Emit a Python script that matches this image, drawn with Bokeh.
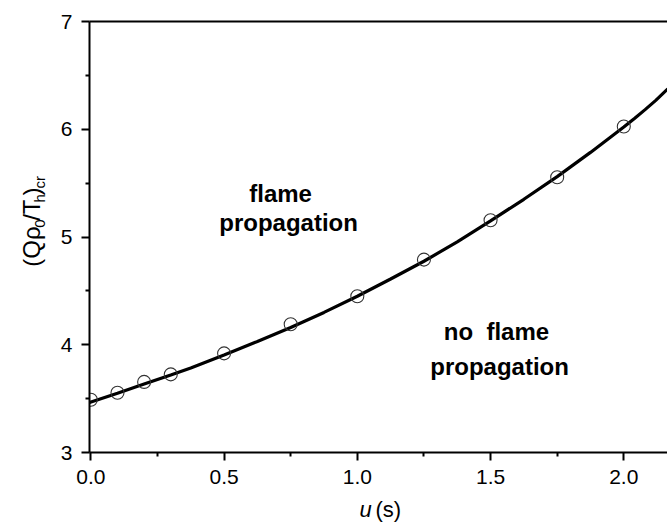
import math
from bokeh.plotting import figure
from bokeh.layouts import column, row
from bokeh.models import (Range1d, LinearAxis, FixedTicker, NumeralTickFormatter, Label)
from bokeh.core.properties import value
from bokeh.embed import file_html
from bokeh.resources import INLINE

# ---- data ----
curve_u = [-0.005, 0.1, 0.2, 0.3, 0.375, 0.5, 0.625, 0.75, 0.875, 1.0, 1.125,
           1.25, 1.375, 1.5, 1.625, 1.75, 1.875, 2.0, 2.04, 2.08, 2.12, 2.165]
curve_q = [3.465, 3.55, 3.635, 3.72, 3.785, 3.905, 4.03, 4.16, 4.30, 4.45, 4.61,
           4.775, 4.955, 5.15, 5.35, 5.56, 5.785, 6.02, 6.10, 6.182, 6.268, 6.375]
pts_u = [0.0, 0.1, 0.2, 0.3, 0.5, 0.75, 1.0, 1.25, 1.5, 1.75, 2.0]
pts_q = [3.49, 3.555, 3.655, 3.725, 3.92, 4.19, 4.45, 4.79, 5.155, 5.555, 6.025]
x_ticks = [0.0, 0.5, 1.0, 1.5, 2.0]
x_minor = [0.25, 0.75, 1.25, 1.75]
y_ticks = [3, 4, 5, 6, 7]
y_minor = [3.5, 4.5, 5.5, 6.5]

FONT = "Liberation Sans"
W, H = 667, 522
YW = 50      # width of y-title strip
XH = 28      # height of x-title strip
MH = H - XH  # main plot height

p = figure(width=W - YW, height=MH, output_backend="svg", toolbar_location=None,
           x_range=Range1d(-0.005, 2.164), y_range=Range1d(3, 7),
           min_border_left=89 - YW, min_border_right=0, min_border_top=21,
           min_border_bottom=MH - 452, background_fill_color="white",
           border_fill_color="white")
p.outline_line_color = None
p.grid.visible = False

for ax, maj, mnr, fmt, so in ((p.xaxis[0], x_ticks, x_minor, "0.0", 9),
                              (p.yaxis[0], y_ticks, y_minor, "0", 9)):
    ax.ticker = FixedTicker(ticks=maj, minor_ticks=mnr)
    ax.formatter = NumeralTickFormatter(format=fmt)
    ax.axis_line_width = 2
    ax.axis_line_color = "black"
    ax.major_tick_line_width = 2
    ax.minor_tick_line_width = 2
    ax.major_tick_in = 0
    ax.major_tick_out = 8
    ax.minor_tick_in = 0
    ax.minor_tick_out = 4
    ax.major_label_text_font = FONT
    ax.major_label_text_font_size = "21px"
    ax.major_label_text_color = "black"
    ax.major_label_standoff = so

top = LinearAxis(ticker=FixedTicker(ticks=[]), axis_line_width=2,
                 major_tick_out=0, minor_tick_out=0, major_label_text_font_size="0px")
p.add_layout(top, "above")

p.line(curve_u, curve_q, line_color="black", line_width=3.2)
p.scatter(pts_u, pts_q, marker="circle", size=13, fill_color=None,
          line_color="#333333", line_width=1.1)

# region labels (data coords)
for t, x, y in (("flame", 0.712, 5.405), ("propagation", 0.742, 5.13),
                ("no\u00a0 flame", 1.522, 4.125), ("propagation", 1.534, 3.80)):
    p.add_layout(Label(x=x, y=y, text=t, text_font=FONT, text_font_size="24px",
                       text_font_style="bold", text_color="black",
                       text_align="center", text_baseline="alphabetic"))


def strip(w, h):
    f = figure(width=w, height=h, output_backend="svg", toolbar_location=None,
               x_range=Range1d(0, w), y_range=Range1d(0, h),
               x_axis_type=None, y_axis_type=None, min_border=0,
               background_fill_color="white", border_fill_color="white")
    f.outline_line_color = None
    f.grid.visible = False
    return f

# y-axis title strip (pixel coordinates, y up)
yf = strip(YW, MH)
pieces = [("(Qρ", 281, 31, "24px"), ("0", 236.5, 39, "15px"), ("/T", 228.5, 31, "24px"),
          ("h", 207.5, 39, "15px"), (")", 199.5, 31, "24px"), ("cr", 191.5, 39, "15px")]
for t, sy, sx, fs in pieces:
    yf.text(x=[sx], y=[MH - sy], text=[t], text_font=value(FONT), text_font_size=fs,
            angle=math.pi / 2, text_align="left", text_baseline="alphabetic",
            text_color="black")

# x-axis title strip
xf = strip(W, XH)
xf.text(x=[359], y=[13], text=["u"], text_font=value(FONT), text_font_size="22px",
        text_font_style="italic", text_baseline="alphabetic", text_color="black")
xf.text(x=[375], y=[13], text=["(s)"], text_font=value(FONT), text_font_size="22px",
        text_baseline="alphabetic", text_color="black")

layout = column(row(yf, p, spacing=0), xf, spacing=0)
open("out.html", "w").write(file_html(layout, INLINE))
